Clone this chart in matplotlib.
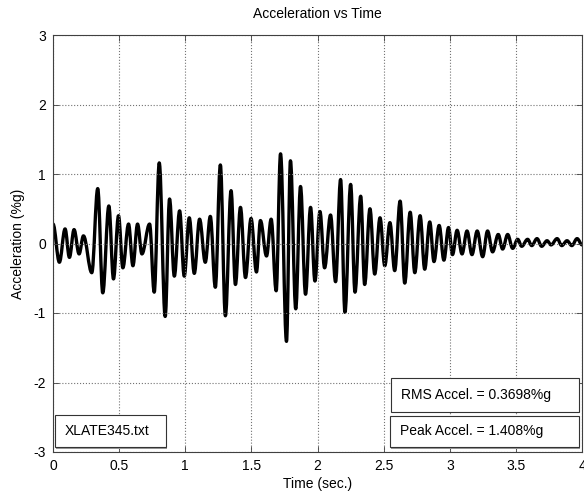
import numpy as np
import matplotlib
matplotlib.use("Agg")
import matplotlib.pyplot as plt
from matplotlib.patches import Rectangle, PathPatch
from matplotlib.path import Path

plt.rcParams['font.family'] = ['Liberation Sans', 'DejaVu Sans']
plt.rcParams['axes.unicode_minus'] = False

# Peaks and troughs of the record
time_s = [0.000, 0.048, 0.091, 0.124, 0.159, 0.197, 0.230, 0.293, 0.338, 0.376,
          0.422, 0.457, 0.495, 0.528, 0.571, 0.604, 0.639, 0.672, 0.730, 0.765,
          0.803, 0.848, 0.881, 0.917, 0.957, 0.992, 1.030, 1.068, 1.108, 1.151,
          1.189, 1.227, 1.265, 1.303, 1.346, 1.379, 1.417, 1.455, 1.497, 1.538,
          1.568, 1.614, 1.649, 1.687, 1.720, 1.765, 1.795, 1.835, 1.871, 1.909,
          1.947, 1.980, 2.018, 2.053, 2.098, 2.136, 2.174, 2.207, 2.250, 2.283,
          2.326, 2.356, 2.396, 2.432, 2.472, 2.508, 2.547, 2.583, 2.624, 2.659,
          2.700, 2.735, 2.775, 2.810, 2.848, 2.880, 2.919, 2.955, 2.990, 3.020,
          3.055, 3.092, 3.130, 3.167, 3.207, 3.248, 3.285, 3.323, 3.366, 3.399,
          3.437, 3.475, 3.513, 3.543, 3.588, 3.619, 3.659, 3.694, 3.735, 3.765,
          3.811, 3.846, 3.886, 3.922, 3.962, 4.000]
accel = [0.28, -0.27, 0.21, -0.20, 0.20, -0.15, 0.11, -0.42, 0.79, -0.71,
         0.54, -0.51, 0.40, -0.35, 0.28, -0.32, 0.28, -0.15, 0.28, -0.70,
         1.16, -1.05, 0.64, -0.47, 0.47, -0.47, 0.37, -0.43, 0.35, -0.27,
         0.39, -0.63, 1.13, -1.04, 0.76, -0.59, 0.52, -0.49, 0.36, -0.41,
         0.33, -0.18, 0.35, -0.68, 1.29, -1.408, 1.19, -0.94, 0.82, -0.73,
         0.52, -0.54, 0.46, -0.35, 0.41, -0.55, 0.92, -0.99, 0.85, -0.70,
         0.68, -0.59, 0.50, -0.44, 0.37, -0.32, 0.30, -0.39, 0.61, -0.57,
         0.45, -0.42, 0.40, -0.37, 0.31, -0.26, 0.26, -0.24, 0.23, -0.16,
         0.19, -0.15, 0.18, -0.16, 0.18, -0.19, 0.18, -0.12, 0.13, -0.08,
         0.13, -0.07, 0.06, -0.04, 0.06, -0.03, 0.07, -0.04, 0.04, -0.02,
         0.07, -0.03, 0.04, -0.03, 0.07, -0.02]

file_name = "XLATE345.txt"
rms_label = "RMS Accel. = 0.3698%g"
peak_label = "Peak Accel. = 1.408%g"

x_ticks = [0, 0.5, 1, 1.5, 2, 2.5, 3, 3.5, 4]
x_tick_labels = ['0', '0.5', '1', '1.5', '2', '2.5', '3', '3.5', '4']
y_ticks = [-3, -2, -1, 0, 1, 2, 3]

fig = plt.figure(figsize=(5.84, 5.0), dpi=100)
ax = fig.add_axes([0.0908, 0.096, 0.906, 0.834])

# draw the trace as a smooth path: flat tangents at each peak / trough
verts = [(time_s[0], accel[0])]
codes = [Path.MOVETO]
k = 0.3642  # cubic approximation of a half cosine
for i in range(len(time_s) - 1):
    t0, t1 = time_s[i], time_s[i + 1]
    v0, v1 = accel[i], accel[i + 1]
    d = t1 - t0
    verts += [(t0 + k * d, v0), (t1 - k * d, v1), (t1, v1)]
    codes += [Path.CURVE4] * 3
trace = PathPatch(Path(verts, codes), facecolor='none', edgecolor='black',
                  linewidth=2.4, joinstyle='round', capstyle='round')
ax.add_patch(trace)

ax.set_xlim(0, 4)
ax.set_ylim(-3, 3)
ax.set_xticks(x_ticks)
ax.set_xticklabels(x_tick_labels)
ax.set_yticks(y_ticks)
ax.tick_params(direction='in', top=True, right=True, length=4, width=0.6,
               color='0.25', labelsize=10, pad=5)
ax.grid(True, linestyle=':', color='0.45', linewidth=0.8)
for sp in ax.spines.values():
    sp.set_color('0.25')
    sp.set_linewidth(0.8)

ax.set_title('Acceleration vs Time', fontsize=10, pad=12)
ax.set_xlabel('Time (sec.)', fontsize=10, labelpad=3)
ax.set_ylabel('Acceleration (%g)', fontsize=10, labelpad=6)


# text boxes in axes coordinates, MATLAB style
def text_box(x0, y0, w, h, label):
    ax.add_patch(Rectangle((x0 + 0.002, y0 - 0.004), w, h, transform=ax.transAxes,
                           facecolor='0.6', edgecolor='none', zorder=4))
    ax.add_patch(Rectangle((x0, y0), w, h, transform=ax.transAxes,
                           facecolor='white', edgecolor='0.2', linewidth=0.8, zorder=5))
    ax.text(x0 + 0.018, y0 + h / 2, label, transform=ax.transAxes,
            ha='left', va='center', fontsize=10, zorder=6)


text_box(0.004, 0.012, 0.209, 0.077, file_name)
text_box(0.637, 0.012, 0.357, 0.075, peak_label)
text_box(0.639, 0.097, 0.355, 0.080, rms_label)

fig.savefig('out.png', dpi=100)
